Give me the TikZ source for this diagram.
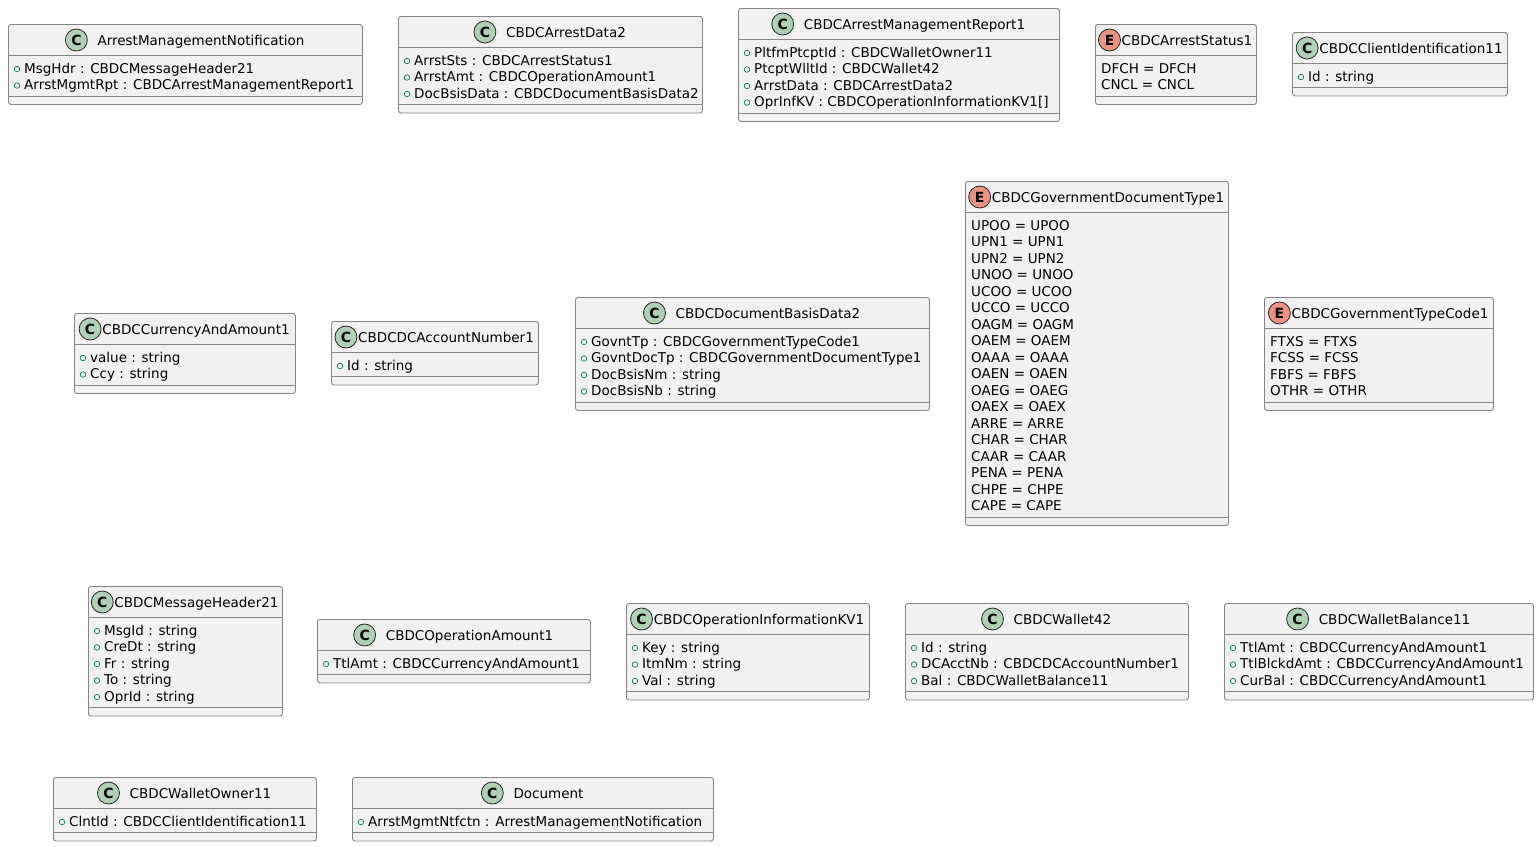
\documentclass[tikz,border=0pt]{standalone}
\usepackage{fontspec}
\setmainfont{DejaVu Sans}
\usetikzlibrary{calc}

\definecolor{boxfill}{HTML}{F1F1F1}
\definecolor{boxline}{HTML}{858585}
\definecolor{classicon}{HTML}{ADD1B2}
\definecolor{enumicon}{HTML}{EB937F}
\definecolor{visgreen}{HTML}{038048}

\tikzset{
  umlframe/.style={draw=boxline, fill=boxfill, line width=0.9pt, rounded corners=2.5pt, inner sep=0pt},
  sepline/.style={draw=boxline, line width=0.9pt},
  titletext/.style={inner sep=0pt, text height=9.8pt, text depth=0pt, anchor=center,
    font=\fontsize{13.5}{15}\selectfont},
  rowtext/.style={inner sep=0pt, text height=9.8pt, text depth=0pt, anchor=west,
    font=\fontsize{13.5}{15}\selectfont},
  kindicon/.style={circle, draw=black!85, line width=0.8pt, minimum size=22pt, inner sep=0pt,
    font=\fontsize{14}{14}\selectfont\bfseries},
  visdot/.style={circle, draw=visgreen, line width=0.7pt, minimum size=5.5pt, inner sep=0pt},
}

% frame, two compartment lines, kind icon and title; \umlN holds the row count
% #1 name, #2 icon colour, #3 letter, #4 left, #5 top, #6 right, #7 icon gap, #8 title
\newcommand{\umlframe}[8]{%
  \pgfmathsetmacro{\umlW}{#6-#4}%
  \pgfmathsetmacro{\umlH}{47+16.5*\umlN}%
  \node[umlframe, anchor=north west, minimum width=\umlW pt, minimum height=\umlH pt] (#1) at (#4,#5) {};
  \draw[sepline] (#4,#5+31) -- (#6,#5+31);
  \draw[sepline] (#4,#5+39+16.5*\umlN) -- (#6,#5+39+16.5*\umlN);
  \node[titletext] (#1-title) at ({(#4+#6)/2+(22+#7)/2}, #5+16.5) {#8};
  \node[kindicon, fill=#2] (#1-icon) at ([xshift=-#7pt-11pt, yshift=0.5pt]#1-title.west) {#3};
}

% class: rows carry a visibility marker
% #1 name, #2 left, #3 top, #4 right, #5 icon gap, #6 title, #7 attribute list
\newcommand{\classbox}[7]{%
  \foreach \r [count=\i] in {#7} {\xdef\umlN{\i}}%
  \umlframe{#1}{classicon}{C}{#2}{#3}{#4}{#5}{#6}%
  \foreach \r [count=\i] in {#7} {
    \node[visdot] (#1-v\i) at (#2+9, #3+28.5+16.5*\i) {};
    \node[rowtext] (#1-r\i) at (#2+16, #3+28+16.5*\i) {\r};
  }
}

% enumeration: plain literal rows
\newcommand{\enumbox}[7]{%
  \foreach \r [count=\i] in {#7} {\xdef\umlN{\i}}%
  \umlframe{#1}{enumicon}{E}{#2}{#3}{#4}{#5}{#6}%
  \foreach \r [count=\i] in {#7} {
    \node[rowtext] (#1-r\i) at (#2+6, #3+28+16.5*\i) {\r};
  }
}

\begin{document}
\begin{tikzpicture}[x=1pt, y=-1pt]
\useasboundingbox (0,0) rectangle (1539,846);

% first row
\classbox{amn}{8}{24}{362}{10}{ArrestManagementNotification}
  {MsgHdr : CBDCMessageHeader21, ArrstMgmtRpt : CBDCArrestManagementReport1}
\classbox{ad2}{398}{16}{702}{10}{CBDCArrestData2}
  {ArrstSts : CBDCArrestStatus1, ArrstAmt : CBDCOperationAmount1, DocBsisData : CBDCDocumentBasisData2}
\classbox{amr1}{738}{8}{1059}{10}{CBDCArrestManagementReport1}
  {PltfmPtcptId : CBDCWalletOwner11, PtcptWlltId : CBDCWallet42, ArrstData : CBDCArrestData2,
   OprInfKV : CBDCOperationInformationKV1[]}
\enumbox{as1}{1095}{24}{1256}{1}{CBDCArrestStatus1}
  {DFCH = DFCH, CNCL = CNCL}
\classbox{ci11}{1292}{32}{1507}{1}{CBDCClientIdentification11}
  {Id : string}

% second row
\classbox{caa1}{74}{313}{295}{1}{CBDCCurrencyAndAmount1}
  {value : string, Ccy : string}
\classbox{dcan1}{331}{321}{538}{1}{CBDCDCAccountNumber1}
  {Id : string}
\classbox{dbd2}{575}{297}{929}{10}{CBDCDocumentBasisData2}
  {GovntTp : CBDCGovernmentTypeCode1, GovntDocTp : CBDCGovernmentDocumentType1,
   DocBsisNm : string, DocBsisNb : string}
\enumbox{gdt1}{965}{181}{1228}{1}{CBDCGovernmentDocumentType1}
  {UPOO = UPOO, UPN1 = UPN1, UPN2 = UPN2, UNOO = UNOO, UCOO = UCOO, UCCO = UCCO,
   OAGM = OAGM, OAEM = OAEM, OAAA = OAAA, OAEN = OAEN, OAEG = OAEG, OAEX = OAEX,
   ARRE = ARRE, CHAR = CHAR, CAAR = CAAR, PENA = PENA, CHPE = CHPE, CAPE = CAPE}
\enumbox{gtc1}{1264}{297}{1493}{1}{CBDCGovernmentTypeCode1}
  {FTXS = FTXS, FCSS = FCSS, FBFS = FBFS, OTHR = OTHR}

% third row
\classbox{mh21}{88}{586}{282}{1}{CBDCMessageHeader21}
  {MsgId : string, CreDt : string, Fr : string, To : string, OprId : string}
\classbox{oa1}{317}{619}{590}{10}{CBDCOperationAmount1}
  {TtlAmt : CBDCCurrencyAndAmount1}
\classbox{oikv1}{626}{603}{869}{1}{CBDCOperationInformationKV1}
  {Key : string, ItmNm : string, Val : string}
\classbox{w42}{905}{603}{1188}{10}{CBDCWallet42}
  {Id : string, DCAcctNb : CBDCDCAccountNumber1, Bal : CBDCWalletBalance11}
\classbox{wb11}{1224}{603}{1533}{10}{CBDCWalletBalance11}
  {TtlAmt : CBDCCurrencyAndAmount1, TtlBlckdAmt : CBDCCurrencyAndAmount1, CurBal : CBDCCurrencyAndAmount1}

% fourth row
\classbox{wo11}{53}{777}{316}{10}{CBDCWalletOwner11}
  {ClntId : CBDCClientIdentification11}
\classbox{doc}{352}{777}{713}{10}{Document}
  {ArrstMgmtNtfctn : ArrestManagementNotification}
\end{tikzpicture}
\end{document}
